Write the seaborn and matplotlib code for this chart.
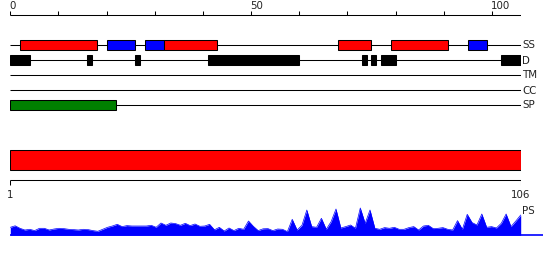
import matplotlib
matplotlib.use("Agg")
import matplotlib.pyplot as plt
import seaborn as sns
import numpy as np
import pandas as pd

# ---------------- data ----------------
seq_len = 106
top_ticks = [0, 10, 20, 30, 40, 50, 60, 70, 80, 90, 100]
top_tick_labels = {0: "0", 50: "50", 100: "100"}

track_names = ["SS", "D", "TM", "CC", "SP"]

# secondary structure segments: (start, end, kind)
ss_starts = [2, 20, 28, 32, 68, 79, 95]
ss_ends = [18, 26, 32, 43, 75, 91, 99]
ss_kinds = ["helix", "strand", "strand", "helix", "helix", "helix", "strand"]

# disorder segments
d_starts = [0, 16, 26, 41, 73, 75, 77, 102]
d_ends = [4, 17, 27, 60, 74, 76, 80, 106]

# signal peptide
sp_starts = [0]
sp_ends = [22]

# domain bar
dom_start = 1
dom_end = 106
low_ticks = [1, 106]

# PS profile (per residue 1..106)
ps_values = [
    8, 9.5, 7, 5.3, 6, 4.7, 7, 7, 5.3, 6.3,
    7, 6.7, 6, 5.7, 5.3, 6, 5.7, 4.7, 4, 6,
    8, 9.3, 11, 8.7, 9.7, 9.3, 9.3, 9.3, 9.3, 10,
    8, 12.3, 10, 12.3, 11.7, 10, 12, 9.7, 11.3, 9,
    9.3, 11, 5.5, 8, 4.3, 7.3, 4.7, 7, 6, 14.3,
    9, 4.7, 6.5, 6.7, 4.7, 6.3, 6, 3.7, 16, 5.3,
    10, 25.3, 8.7, 8, 17, 6, 13.7, 26.3, 7.3, 8.7,
    10.3, 7, 27.3, 12, 25.3, 7, 6, 7.7, 7, 8,
    6, 6, 7.7, 8.7, 5.3, 9.3, 10, 6.7, 7, 7.7,
    6, 5.3, 14.7, 6, 21, 12.7, 10.3, 21.3, 8, 8.7,
    7.3, 12, 21.3, 8.7, 14.3, 20.3,
]
ps_positions = list(range(1, seq_len + 1))

# ---------------- style ----------------
sns.set_theme(style="white")
plt.rcParams["font.family"] = ["DejaVu Sans"]
FS = 7.4
COLORS = {"helix": "#ff0000", "strand": "#0000ff"}
LW = 0.75

W, H = 550, 260
fig = plt.figure(figsize=(W / 100, H / 100), dpi=100)
left = 10.3 / W
width = 510.4 / W

# axes with 0..106 scale (ruler + tracks), y in pixel rows
ax = fig.add_axes([left, 0, width, 1])
ax.set_xlim(0, seq_len)
ax.set_ylim(H, 0)
ax.axis("off")

# top ruler
ruler_y = 14.7
ax.hlines(ruler_y, 0, seq_len, color="black", lw=LW)
ax.vlines(top_ticks, ruler_y - 4, ruler_y, color="black", lw=LW)
for t, lab in top_tick_labels.items():
    ax.text(t - 0.1, 10.6, lab, ha="left", va="bottom", fontsize=FS, color="#222222")

row_y = {name: 45.2 + 15 * i for i, name in enumerate(track_names)}
bar_h = 10

for name in track_names:
    y = row_y[name]
    ax.hlines(y, 0, seq_len, color="black", lw=LW, zorder=1)
    ax.text(seq_len + 0.25, y + 0.3, name, ha="left", va="center", fontsize=FS,
            color="#222222", clip_on=False)

for s, e, k in zip(ss_starts, ss_ends, ss_kinds):
    ax.barh(row_y["SS"], e - s, left=s, height=bar_h, color=COLORS[k],
            edgecolor="black", linewidth=LW, zorder=2)
for s, e in zip(d_starts, d_ends):
    ax.barh(row_y["D"], e - s, left=s, height=bar_h, color="black",
            edgecolor="black", linewidth=LW, zorder=2)
for s, e in zip(sp_starts, sp_ends):
    ax.barh(row_y["SP"], e - s, left=s, height=bar_h, color="#008000",
            edgecolor="black", linewidth=LW, zorder=2)

# axes with 1..106 scale (domain bar + lower ruler)
ax2 = fig.add_axes([left, 0, width, 1])
ax2.set_xlim(1, seq_len)
ax2.set_ylim(H, 0)
ax2.axis("off")
ax2.patch.set_alpha(0)
ax2.barh(160.3, dom_end - dom_start, left=dom_start, height=20, color="#ff0000",
         edgecolor="black", linewidth=LW)
low_y = 180.3
ax2.hlines(low_y, 1, seq_len, color="black", lw=LW)
ax2.vlines(low_ticks, low_y, low_y + 4.5, color="black", lw=LW)
for t in low_ticks:
    ax2.text(t, 190.5, str(t), ha="center", va="top", fontsize=FS, color="#222222",
             clip_on=False)

# PS profile axes
base_px = 235.3
ps_h = 40
ax3 = fig.add_axes([left, (H - base_px) / H, width, ps_h / H])
ax3.set_xlim(1, seq_len)
ax3.set_ylim(0, ps_h)
ax3.axis("off")
ax3.patch.set_alpha(0)
df = pd.DataFrame({"pos": ps_positions, "ps": ps_values})
ax3.fill_between(df["pos"], 0, df["ps"], color="#0000ff", lw=0, clip_on=False)
sns.lineplot(data=df, x="pos", y="ps", ax=ax3, color="#0000ff", lw=0.5, clip_on=False)
ax3.hlines(0, 1, seq_len + 4.6, color="#0000ff", lw=1.2, clip_on=False)
ax3.text(seq_len + 0.25, 24.3, "PS", ha="left", va="center", fontsize=FS,
         color="#222222", clip_on=False)
ax3.set_xlabel("")
ax3.set_ylabel("")

fig.savefig("out.png", dpi=100)
